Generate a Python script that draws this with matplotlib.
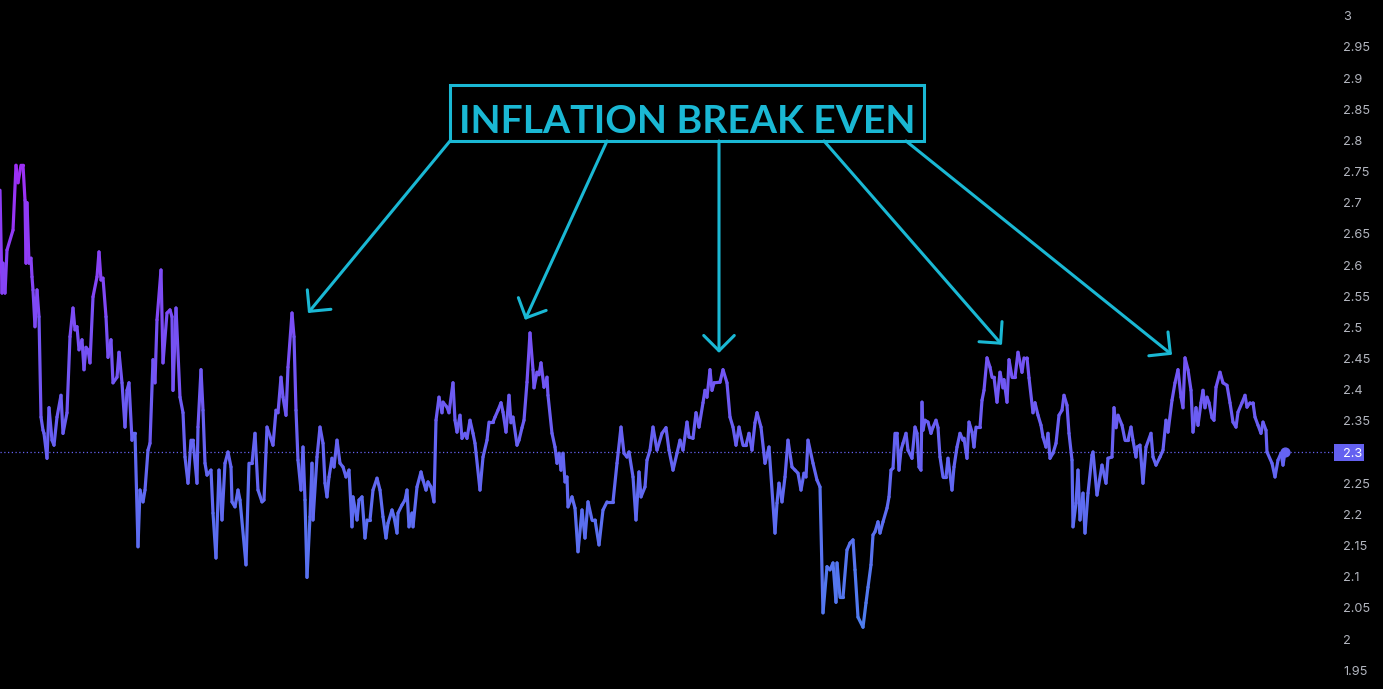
import numpy as np
import matplotlib
matplotlib.use('Agg')
import matplotlib.pyplot as plt
from matplotlib.collections import LineCollection
from matplotlib.colors import LinearSegmentedColormap, Normalize
from matplotlib.patches import Rectangle

# ---------------- data ----------------
days = [0, 2, 3, 5, 7, 13, 16, 18, 21, 23, 25, 26, 27, 29, 31, 32, 33, 35, 37, 39,
        41, 43, 44, 47, 49, 52, 54, 57, 61, 63, 67, 70, 73, 75, 77, 79, 82, 84, 86, 88,
        90, 93, 97, 99, 101, 103, 106, 108, 111, 113, 117, 119, 122, 125, 127, 129, 132, 133, 135, 138,
        140, 143, 145, 148, 150, 153, 155, 157, 161, 163, 167, 170, 172, 173, 176, 180, 183, 185, 188, 191,
        193, 197, 198, 201, 203, 205, 207, 211, 213, 216, 219, 222, 225, 228, 231, 232, 235, 238, 240, 246,
        249, 252, 255, 258, 262, 264, 267, 273, 276, 278, 281, 283, 286, 288, 292, 294, 296, 298, 301, 303,
        305, 307, 310, 312, 313, 317, 320, 323, 325, 327, 329, 332, 334, 337, 340, 343, 346, 349, 352, 353,
        357, 359, 362, 365, 367, 370, 373, 377, 380, 383, 386, 388, 392, 394, 397, 398, 402, 405, 407, 409,
        412, 413, 417, 421, 423, 426, 428, 431, 434, 436, 439, 442, 443, 447, 449, 453, 455, 457, 460, 462,
        465, 467, 470, 473, 475, 480, 483, 487, 489, 493, 495, 498, 501, 503, 506, 509, 511, 513, 517, 519,
        522, 524, 527, 530, 533, 534, 537, 539, 541, 544, 547, 548, 552, 555, 557, 559, 561, 563, 565, 567,
        568, 572, 575, 578, 582, 585, 588, 592, 595, 599, 603, 607, 613, 617, 621, 624, 627, 629, 633, 636,
        639, 641, 645, 647, 650, 653, 657, 662, 666, 669, 673, 677, 680, 683, 687, 689, 693, 696, 699, 703,
        705, 707, 710, 712, 714, 720, 723, 727, 730, 733, 736, 739, 743, 746, 749, 752, 755, 757, 761, 765,
        769, 775, 777, 779, 782, 785, 788, 792, 795, 798, 801, 804, 806, 808, 813, 817, 820, 823, 827, 830,
        833, 836, 837, 840, 843, 847, 850, 853, 855, 858, 863, 866, 868, 871, 873, 875, 878, 880, 883, 887,
        889, 891, 893, 895, 897, 899, 901, 903, 906, 908, 912, 915, 917, 919, 921, 922, 923, 925, 928, 931,
        933, 936, 938, 940, 943, 946, 948, 952, 954, 957, 960, 963, 964, 967, 969, 972, 974, 976, 980, 982,
        984, 987, 990, 992, 994, 997, 1000, 1003, 1004, 1007, 1009, 1012, 1015, 1018, 1022, 1024, 1027, 1029, 1033, 1035,
        1038, 1041, 1043, 1046, 1048, 1050, 1053, 1056, 1059, 1062, 1064, 1067, 1069, 1072, 1073, 1076, 1078, 1080, 1083, 1085,
        1088, 1092, 1093, 1097, 1102, 1106, 1108, 1112, 1114, 1116, 1118, 1122, 1125, 1128, 1131, 1133, 1136, 1137, 1140, 1143,
        1146, 1151, 1153, 1156, 1160, 1163, 1166, 1168, 1172, 1175, 1178, 1181, 1183, 1185, 1188, 1191, 1193, 1196, 1198, 1201,
        1203, 1205, 1207, 1209, 1212, 1214, 1216, 1220, 1223, 1227, 1230, 1233, 1236, 1238, 1242, 1245, 1247, 1250, 1253, 1255,
        1258, 1261, 1263, 1266, 1267, 1272, 1275, 1278, 1281, 1283, 1285]

values = [2.720, 2.555, 2.603, 2.555, 2.624, 2.656, 2.760, 2.732, 2.760, 2.760, 2.704, 2.603, 2.700, 2.603, 2.611, 2.581, 2.560, 2.501, 2.560, 2.517,
          2.356, 2.335, 2.330, 2.290, 2.371, 2.319, 2.311, 2.356, 2.391, 2.330, 2.363, 2.485, 2.531, 2.496, 2.501, 2.464, 2.480, 2.432, 2.468, 2.464,
          2.443, 2.549, 2.581, 2.621, 2.576, 2.579, 2.517, 2.452, 2.480, 2.411, 2.420, 2.460, 2.411, 2.340, 2.399, 2.411, 2.319, 2.330, 2.330, 2.148,
          2.239, 2.220, 2.239, 2.303, 2.314, 2.448, 2.411, 2.512, 2.592, 2.443, 2.523, 2.528, 2.517, 2.399, 2.531, 2.388, 2.363, 2.292, 2.250, 2.319,
          2.319, 2.250, 2.340, 2.432, 2.367, 2.282, 2.263, 2.271, 2.202, 2.130, 2.271, 2.191, 2.282, 2.300, 2.276, 2.220, 2.212, 2.239, 2.223, 2.119,
          2.282, 2.282, 2.330, 2.239, 2.220, 2.223, 2.340, 2.311, 2.367, 2.363, 2.420, 2.388, 2.359, 2.436, 2.523, 2.485, 2.367, 2.287, 2.239, 2.308,
          2.223, 2.099, 2.196, 2.282, 2.191, 2.292, 2.340, 2.314, 2.250, 2.228, 2.260, 2.290, 2.276, 2.319, 2.282, 2.276, 2.260, 2.271, 2.180, 2.228,
          2.191, 2.223, 2.228, 2.162, 2.191, 2.191, 2.239, 2.258, 2.239, 2.196, 2.162, 2.186, 2.207, 2.196, 2.170, 2.202, 2.215, 2.223, 2.239, 2.180,
          2.202, 2.180, 2.244, 2.268, 2.255, 2.239, 2.252, 2.244, 2.220, 2.351, 2.388, 2.363, 2.380, 2.372, 2.363, 2.411, 2.351, 2.332, 2.359, 2.322,
          2.330, 2.322, 2.351, 2.330, 2.314, 2.239, 2.292, 2.319, 2.348, 2.348, 2.356, 2.367, 2.379, 2.364, 2.332, 2.391, 2.347, 2.356, 2.311, 2.319,
          2.339, 2.351, 2.412, 2.491, 2.432, 2.403, 2.428, 2.424, 2.443, 2.404, 2.420, 2.391, 2.330, 2.308, 2.282, 2.298, 2.271, 2.298, 2.252, 2.260,
          2.212, 2.228, 2.210, 2.140, 2.207, 2.162, 2.220, 2.191, 2.191, 2.151, 2.207, 2.220, 2.220, 2.282, 2.340, 2.298, 2.292, 2.300, 2.260, 2.191,
          2.268, 2.228, 2.244, 2.287, 2.303, 2.340, 2.303, 2.330, 2.339, 2.303, 2.271, 2.298, 2.319, 2.303, 2.348, 2.324, 2.322, 2.363, 2.340, 2.379,
          2.399, 2.388, 2.432, 2.399, 2.411, 2.412, 2.432, 2.411, 2.356, 2.340, 2.311, 2.340, 2.311, 2.311, 2.330, 2.303, 2.347, 2.363, 2.340, 2.282,
          2.308, 2.170, 2.218, 2.250, 2.220, 2.260, 2.319, 2.276, 2.271, 2.266, 2.239, 2.266, 2.260, 2.319, 2.282, 2.255, 2.244, 2.042, 2.116, 2.111,
          2.122, 2.059, 2.122, 2.067, 2.067, 2.143, 2.154, 2.159, 2.111, 2.035, 2.019, 2.058, 2.083, 2.119, 2.167, 2.172, 2.188, 2.170, 2.188, 2.210,
          2.228, 2.271, 2.274, 2.330, 2.330, 2.271, 2.303, 2.314, 2.330, 2.303, 2.290, 2.340, 2.330, 2.276, 2.271, 2.380, 2.335, 2.351, 2.348, 2.330,
          2.340, 2.351, 2.339, 2.292, 2.260, 2.260, 2.290, 2.239, 2.276, 2.308, 2.330, 2.319, 2.322, 2.290, 2.348, 2.332, 2.308, 2.340, 2.340, 2.383,
          2.399, 2.451, 2.436, 2.420, 2.420, 2.380, 2.428, 2.403, 2.416, 2.380, 2.448, 2.420, 2.420, 2.460, 2.428, 2.451, 2.451, 2.419, 2.363, 2.379,
          2.359, 2.343, 2.324, 2.308, 2.330, 2.290, 2.298, 2.314, 2.359, 2.367, 2.391, 2.375, 2.330, 2.287, 2.180, 2.218, 2.271, 2.191, 2.234, 2.170,
          2.234, 2.295, 2.300, 2.231, 2.279, 2.250, 2.290, 2.292, 2.371, 2.339, 2.359, 2.343, 2.319, 2.319, 2.340, 2.319, 2.292, 2.308, 2.311, 2.250,
          2.308, 2.330, 2.292, 2.279, 2.292, 2.303, 2.351, 2.332, 2.383, 2.411, 2.432, 2.388, 2.371, 2.451, 2.432, 2.399, 2.332, 2.371, 2.343, 2.379,
          2.399, 2.371, 2.388, 2.379, 2.355, 2.351, 2.404, 2.428, 2.411, 2.407, 2.379, 2.348, 2.340, 2.364, 2.379, 2.391, 2.372, 2.379, 2.379, 2.356,
          2.343, 2.330, 2.348, 2.335, 2.300, 2.282, 2.260, 2.287, 2.298, 2.279, 2.300]

tick_values = [1.95, 2.0, 2.05, 2.1, 2.15, 2.2, 2.25, 2.3, 2.35, 2.4, 2.45, 2.5,
               2.55, 2.6, 2.65, 2.7, 2.75, 2.8, 2.85, 2.9, 2.95, 3.0]
tick_labels = ['1.95', '2', '2.05', '2.1', '2.15', '2.2', '2.25', '2.3', '2.35', '2.4', '2.45', '2.5',
               '2.55', '2.6', '2.65', '2.7', '2.75', '2.8', '2.85', '2.9', '2.95', '3']

title_text = "INFLATION BREAK EVEN"
arrow_tip_days = [308, 525, 719, 1002, 1172]
arrow_tip_values = [2.523, 2.512, 2.459, 2.472, 2.456]
arrow_start_days = [450, 607, 719, 824, 906]

# ---------------- style ----------------
W, H = 1383, 689
BG = '#000000'
CYAN = '#1ab8d4'
TICK_COLOR = '#b2b5be'
LAST_COLOR = '#6461f0'

fig = plt.figure(figsize=(W / 100, H / 100), dpi=100, facecolor=BG)
plot_right = 1333
ax = fig.add_axes([0, 0, plot_right / W, 1])
ax.set_facecolor(BG)
ax.set_xlim(0, plot_right)
ax.set_ylim(1.9198, 3.0252)

cmap = LinearSegmentedColormap.from_list(
    'grad', [(0.0, '#4c80ef'), (0.39, '#6563f2'), (0.65, '#7a4ef5'), (1.0, '#a02cf5')])
norm = Normalize(vmin=2.0, vmax=2.77)

x = np.asarray(days, dtype=float)
y = np.asarray(values, dtype=float)
pts = np.column_stack([x, y])
segs = np.stack([pts[:-1], pts[1:]], axis=1)
mid = (y[:-1] + y[1:]) / 2
lc = LineCollection(segs, colors=cmap(norm(mid)), linewidths=2.3,
                    capstyle='round', joinstyle='round', zorder=3)
ax.add_collection(lc)

# last value marker and dotted price line
ax.axhline(values[-1], color=LAST_COLOR, lw=0.9, ls=(0, (1, 2)), zorder=2)
ax.scatter([days[-1]], [values[-1]], s=40, color=cmap(norm(values[-1])), zorder=4)

# right axis
ax.yaxis.tick_right()
ax.set_yticks(tick_values, labels=tick_labels)
ax.tick_params(axis='y', length=0, pad=7.5, labelsize=9.2, labelcolor=TICK_COLOR)
for lbl in ax.get_yticklabels():
    lbl.set_fontfamily('Inter')
    if lbl.get_text() == '2.3':
        lbl.set_color('white')
ax.set_xticks([])
for s in ax.spines.values():
    s.set_visible(False)

# last price box behind the label
box = Rectangle((1334 / W, (H - 461) / H), 30 / W, 17 / H, transform=fig.transFigure,
                facecolor=LAST_COLOR, edgecolor='none', clip_on=False, zorder=1)
ax.add_artist(box)

# title box
box_left, box_right = 450, 924
box_bottom, box_top = 2.799, 2.889
ax.add_patch(Rectangle((box_left, box_bottom), box_right - box_left, box_top - box_bottom,
                       fill=False, edgecolor=CYAN, linewidth=2.2, zorder=5))
ax.text((box_left + box_right) / 2, 2.8125, title_text,
        ha='center', va='baseline', color=CYAN, fontsize=28.2, fontweight='bold',
        fontfamily='Lato', zorder=6)

# arrows
for sx, tx, tv in zip(arrow_start_days, arrow_tip_days, arrow_tip_values):
    ax.annotate('', xy=(tx, tv), xytext=(sx, box_bottom),
                arrowprops=dict(arrowstyle='->,head_length=0.55,head_width=0.55',
                                color=CYAN, lw=2.2, shrinkA=0, shrinkB=0,
                                mutation_scale=20), zorder=5)

fig.savefig('out.png', dpi=100, facecolor=BG)
